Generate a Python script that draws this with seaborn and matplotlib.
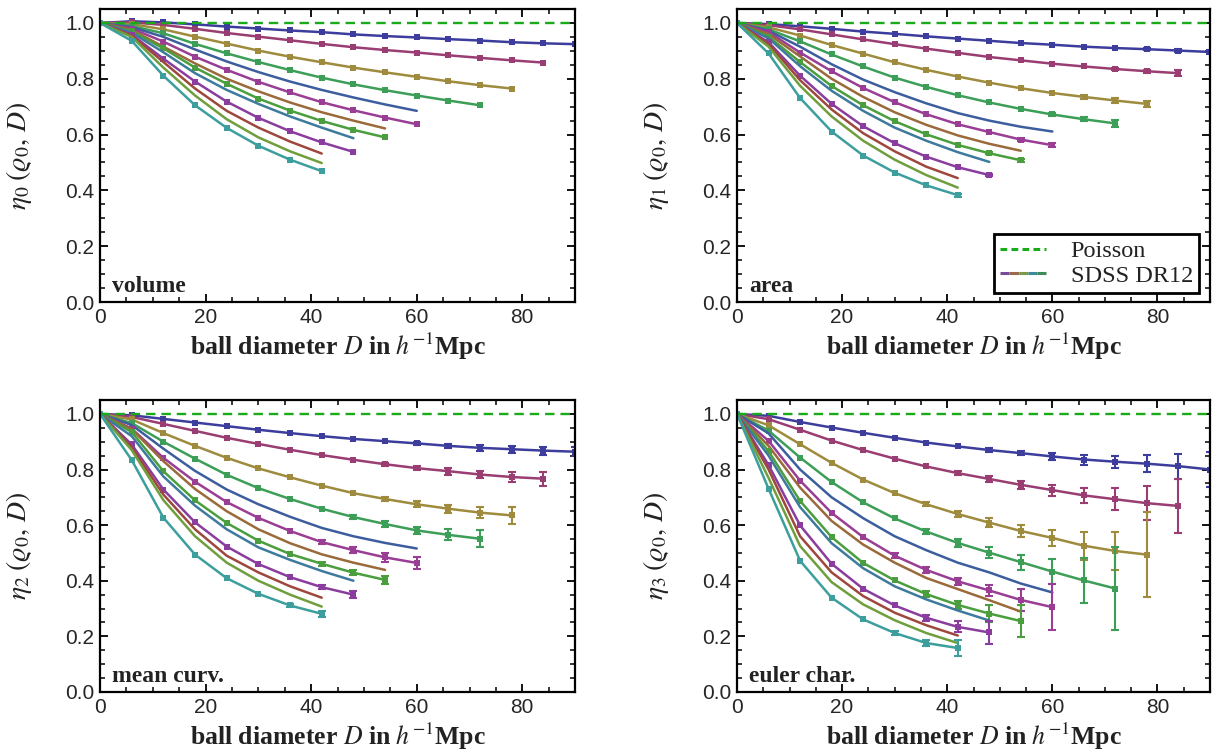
import numpy as np
import pandas as pd
import matplotlib
matplotlib.use("Agg")
import matplotlib.pyplot as plt
import seaborn as sns
from matplotlib.lines import Line2D
from matplotlib.legend_handler import HandlerBase
from matplotlib.ticker import MultipleLocator, FormatStrFormatter

# ---------------- data ----------------
STEP = 6
X_END = [90, 84, 78, 72, 60, 60, 54, 54, 48, 48, 42, 42, 42]
HAS_MARKERS = [True, True, True, True, False, True, False, True, False, True, False, False, True]
COLORS = ["#3d3d9e", "#9a3d72", "#9e8b3d", "#3d9e58", "#3d5e9e", "#9a3d95", "#9a6a3a",
          "#4a9e3d", "#3d7a9e", "#8a3d9e", "#9e483d", "#6f9e3d", "#3d9e9e"]

VOLUME = [
    [1.0, 1.006, 1.002, 0.995, 0.987, 0.980, 0.973, 0.967, 0.959, 0.953, 0.948, 0.942, 0.937, 0.931, 0.927, 0.924],
    [1.0, 1.002, 0.993, 0.979, 0.964, 0.951, 0.938, 0.925, 0.913, 0.903, 0.894, 0.884, 0.875, 0.866, 0.858],
    [1.0, 0.996, 0.977, 0.951, 0.926, 0.901, 0.879, 0.859, 0.840, 0.823, 0.807, 0.791, 0.777, 0.765],
    [1.0, 0.989, 0.963, 0.925, 0.891, 0.860, 0.831, 0.804, 0.780, 0.759, 0.740, 0.722, 0.705],
    [1.0, 0.985, 0.950, 0.905, 0.862, 0.824, 0.790, 0.760, 0.733, 0.708, 0.685],
    [1.0, 0.980, 0.933, 0.879, 0.832, 0.789, 0.751, 0.716, 0.687, 0.661, 0.637],
    [1.0, 0.975, 0.915, 0.855, 0.800, 0.755, 0.715, 0.680, 0.650, 0.622],
    [1.0, 0.970, 0.909, 0.840, 0.782, 0.729, 0.686, 0.649, 0.617, 0.590],
    [1.0, 0.965, 0.895, 0.820, 0.760, 0.710, 0.665, 0.625, 0.587],
    [1.0, 0.958, 0.872, 0.790, 0.718, 0.660, 0.612, 0.572, 0.538],
    [1.0, 0.955, 0.860, 0.765, 0.685, 0.625, 0.575, 0.532],
    [1.0, 0.950, 0.840, 0.740, 0.655, 0.590, 0.540, 0.498],
    [1.0, 0.936, 0.811, 0.705, 0.624, 0.560, 0.510, 0.469],
]
AREA = [
    [1.0, 0.996, 0.988, 0.979, 0.969, 0.961, 0.952, 0.944, 0.936, 0.928, 0.922, 0.915, 0.910, 0.906, 0.901, 0.896],
    [1.0, 0.992, 0.977, 0.959, 0.941, 0.924, 0.908, 0.893, 0.878, 0.866, 0.854, 0.844, 0.835, 0.827, 0.820],
    [1.0, 0.984, 0.955, 0.921, 0.890, 0.859, 0.832, 0.808, 0.786, 0.766, 0.749, 0.735, 0.722, 0.710],
    [1.0, 0.977, 0.934, 0.887, 0.844, 0.804, 0.771, 0.741, 0.715, 0.692, 0.672, 0.655, 0.640],
    [1.0, 0.972, 0.915, 0.852, 0.797, 0.752, 0.712, 0.677, 0.650, 0.628, 0.611],
    [1.0, 0.967, 0.894, 0.827, 0.767, 0.716, 0.673, 0.637, 0.609, 0.582, 0.562],
    [1.0, 0.960, 0.880, 0.800, 0.735, 0.680, 0.635, 0.597, 0.567, 0.542],
    [1.0, 0.951, 0.860, 0.774, 0.705, 0.648, 0.601, 0.563, 0.533, 0.508],
    [1.0, 0.945, 0.845, 0.757, 0.685, 0.625, 0.578, 0.537, 0.502],
    [1.0, 0.931, 0.811, 0.710, 0.630, 0.569, 0.521, 0.483, 0.455],
    [1.0, 0.925, 0.795, 0.690, 0.605, 0.540, 0.485, 0.444],
    [1.0, 0.915, 0.775, 0.665, 0.578, 0.510, 0.455, 0.410],
    [1.0, 0.891, 0.731, 0.611, 0.525, 0.464, 0.418, 0.383],
]
MEANCURV = [
    [1.0, 0.995, 0.982, 0.969, 0.956, 0.943, 0.931, 0.920, 0.910, 0.902, 0.894, 0.885, 0.878, 0.873, 0.868, 0.864],
    [1.0, 0.989, 0.964, 0.939, 0.914, 0.892, 0.871, 0.852, 0.835, 0.819, 0.805, 0.794, 0.782, 0.773, 0.767],
    [1.0, 0.980, 0.931, 0.885, 0.842, 0.804, 0.772, 0.742, 0.715, 0.694, 0.675, 0.659, 0.645, 0.635],
    [1.0, 0.967, 0.900, 0.839, 0.781, 0.733, 0.694, 0.659, 0.629, 0.604, 0.581, 0.565, 0.551],
    [1.0, 0.960, 0.875, 0.795, 0.728, 0.675, 0.630, 0.590, 0.560, 0.536, 0.516],
    [1.0, 0.947, 0.842, 0.756, 0.683, 0.626, 0.579, 0.539, 0.510, 0.484, 0.464],
    [1.0, 0.945, 0.830, 0.730, 0.650, 0.585, 0.535, 0.495, 0.465, 0.439],
    [1.0, 0.935, 0.794, 0.689, 0.608, 0.544, 0.496, 0.461, 0.429, 0.403],
    [1.0, 0.920, 0.775, 0.670, 0.585, 0.520, 0.475, 0.435, 0.400],
    [1.0, 0.890, 0.728, 0.610, 0.523, 0.460, 0.413, 0.377, 0.350],
    [1.0, 0.880, 0.710, 0.585, 0.490, 0.430, 0.380, 0.339],
    [1.0, 0.870, 0.690, 0.560, 0.465, 0.400, 0.350, 0.307],
    [1.0, 0.834, 0.627, 0.494, 0.409, 0.353, 0.311, 0.281],
]
EULER = [
    [1.0, 0.993, 0.971, 0.951, 0.932, 0.914, 0.897, 0.883, 0.870, 0.859, 0.847, 0.836, 0.828, 0.821, 0.812, 0.800],
    [1.0, 0.981, 0.943, 0.904, 0.870, 0.839, 0.811, 0.787, 0.766, 0.745, 0.726, 0.707, 0.693, 0.679, 0.669],
    [1.0, 0.959, 0.891, 0.824, 0.764, 0.715, 0.675, 0.640, 0.609, 0.579, 0.554, 0.526, 0.507, 0.494],
    [1.0, 0.940, 0.843, 0.755, 0.682, 0.624, 0.577, 0.536, 0.501, 0.467, 0.433, 0.401, 0.372],
    [1.0, 0.930, 0.800, 0.700, 0.625, 0.560, 0.510, 0.465, 0.430, 0.390, 0.358],
    [1.0, 0.903, 0.760, 0.644, 0.557, 0.490, 0.439, 0.398, 0.365, 0.331, 0.305],
    [1.0, 0.885, 0.735, 0.615, 0.530, 0.465, 0.410, 0.370, 0.330, 0.289],
    [1.0, 0.866, 0.687, 0.557, 0.464, 0.401, 0.352, 0.313, 0.282, 0.255],
    [1.0, 0.850, 0.665, 0.535, 0.445, 0.380, 0.333, 0.293, 0.257],
    [1.0, 0.816, 0.599, 0.461, 0.371, 0.311, 0.267, 0.234, 0.214],
    [1.0, 0.800, 0.560, 0.430, 0.345, 0.285, 0.240, 0.203],
    [1.0, 0.770, 0.525, 0.395, 0.315, 0.258, 0.212, 0.176],
    [1.0, 0.731, 0.472, 0.339, 0.261, 0.212, 0.176, 0.158],
]

# error bars, aligned to the LAST points of each curve
ERR_VOLUME = [[], [], [], [], [], [], [], [], [], [], [], [], []]
ERR_AREA = [[0.004, 0.005, 0.006], [0.005, 0.006, 0.010], [0.006, 0.008, 0.012], [0.006, 0.008, 0.012],
            [], [0.005, 0.008], [], [0.004, 0.006], [], [0.005], [], [], [0.005]]
ERR_MEANCURV = [[0.005, 0.008, 0.010, 0.012, 0.014, 0.016], [0.006, 0.008, 0.012, 0.014, 0.018, 0.025],
                [0.008, 0.010, 0.014, 0.020, 0.030], [0.008, 0.010, 0.014, 0.020, 0.030],
                [], [0.008, 0.010, 0.015, 0.020], [], [0.008, 0.010, 0.015], [], [0.008, 0.012],
                [], [], [0.006, 0.010]]
ERR_EULER = [[0.006, 0.008, 0.012, 0.018, 0.022, 0.030, 0.045, 0.063],
             [0.008, 0.010, 0.015, 0.020, 0.027, 0.040, 0.060, 0.096],
             [0.008, 0.010, 0.015, 0.020, 0.030, 0.050, 0.070, 0.152],
             [0.010, 0.015, 0.020, 0.027, 0.045, 0.080, 0.150],
             [], [0.008, 0.010, 0.012, 0.020, 0.040, 0.083], [], [0.010, 0.015, 0.030, 0.056],
             [], [0.010, 0.020, 0.041], [], [], [0.008, 0.012, 0.029]]

PANELS = [
    ("volume", r"$\eta_0\;(\varrho_0,\,D)$", VOLUME, ERR_VOLUME),
    ("area", r"$\eta_1\;(\varrho_0,\,D)$", AREA, ERR_AREA),
    ("mean curv.", r"$\eta_2\;(\varrho_0,\,D)$", MEANCURV, ERR_MEANCURV),
    ("euler char.", r"$\eta_3\;(\varrho_0,\,D)$", EULER, ERR_EULER),
]
XLABEL = r"ball diameter $D$ in $h^{-1}$Mpc"
POISSON_X = [0, 90]
POISSON_Y = [1.0, 1.0]
POISSON_COLOR = "#1aab1a"
LEGEND_LABELS = ["Poisson", "SDSS DR12"]
LEGEND_MULTI_COLORS = ["#7a4a9a", "#9a6a4a", "#7a9a4a", "#3d8a9a", "#3d8a5a"]

# ---------------- style ----------------
sns.set_style("ticks")
plt.rcParams["font.family"] = ["Liberation Serif", "DejaVu Serif"]
plt.rcParams["mathtext.fontset"] = "stix"
plt.rcParams["axes.linewidth"] = 1.6
plt.rcParams["xtick.direction"] = "in"
plt.rcParams["ytick.direction"] = "in"


class MultiLine:
    pass


class MultiLineHandler(HandlerBase):
    def create_artists(self, legend, orig_handle, xdescent, ydescent, width, height, fontsize, trans):
        n = len(LEGEND_MULTI_COLORS)
        y = height / 2 - ydescent
        arts = []
        for i, c in enumerate(LEGEND_MULTI_COLORS):
            x0 = -xdescent + width * i / n
            x1 = -xdescent + width * (i + 1) / n
            arts.append(Line2D([x0, x1], [y, y], color=c, lw=2.2, solid_capstyle="butt", transform=trans))
        return arts


fig = plt.figure(figsize=(12.14, 7.56), dpi=100)
positions = [
    [0.0824, 0.6005, 0.3913, 0.3876],
    [0.6071, 0.6005, 0.3896, 0.3876],
    [0.0824, 0.0847, 0.3913, 0.3862],
    [0.6071, 0.0847, 0.3896, 0.3862],
]

for k, (name, ylab, curves, errs) in enumerate(PANELS):
    ax = fig.add_axes(positions[k])
    for i, vals in enumerate(curves):
        xs = np.arange(0, X_END[i] + 1, STEP)
        df = pd.DataFrame({"D": xs, "eta": vals})
        kw = dict(marker="s", markersize=4.6, markeredgewidth=0) if HAS_MARKERS[i] else {}
        sns.lineplot(data=df, x="D", y="eta", color=COLORS[i], linewidth=1.8, ax=ax,
                     sort=False, errorbar=None, legend=False, **kw)
        e = errs[i]
        if len(e):
            n = len(e)
            ax.errorbar(xs[-n:], np.asarray(vals)[-n:], yerr=e, fmt="none", ecolor=COLORS[i],
                        elinewidth=1.5, capsize=2.6, capthick=1.5)
    ax.plot(POISSON_X, POISSON_Y, color=POISSON_COLOR, lw=1.7, dashes=(4, 2.5))

    ax.set_xlim(0, 90)
    ax.set_ylim(0, 1.05)
    ax.xaxis.set_major_locator(MultipleLocator(20))
    ax.xaxis.set_minor_locator(MultipleLocator(5))
    ax.yaxis.set_major_locator(MultipleLocator(0.2))
    ax.yaxis.set_minor_locator(MultipleLocator(0.05))
    ax.yaxis.set_major_formatter(FormatStrFormatter("%.1f"))
    ax.tick_params(which="both", direction="in", top=True, right=True, color="black")
    ax.tick_params(which="major", length=6, width=1.3, labelsize=15, pad=4)
    ax.tick_params(which="minor", length=3.5, width=1.1)
    for lab in ax.get_xticklabels() + ax.get_yticklabels():
        lab.set_fontfamily(["Liberation Sans", "DejaVu Sans"])
    for sp in ax.spines.values():
        sp.set_visible(True)
        sp.set_color("black")
        sp.set_linewidth(1.6)

    ax.set_xlabel(XLABEL, fontsize=18.5, fontweight="bold", color="#222222")
    ax.xaxis.set_label_coords(0.5, -0.098)
    ax.set_ylabel(ylab, fontsize=20, color="#222222")
    ax.yaxis.set_label_coords(-0.14, 0.5)
    ax.text(0.025, 0.035, name, transform=ax.transAxes, fontsize=17, fontweight="bold",
            color="#222222", ha="left", va="baseline")

    if k == 1:
        handles = [Line2D([], [], color=POISSON_COLOR, lw=2.2, dashes=(2.2, 1.4)), MultiLine()]
        leg = ax.legend(handles, LEGEND_LABELS, handler_map={MultiLine: MultiLineHandler()},
                        loc="lower right", bbox_to_anchor=(0.977, 0.031), borderaxespad=0,
                        fontsize=17.5, frameon=True, fancybox=False, framealpha=1,
                        edgecolor="black", handlelength=1.9, handletextpad=1.0,
                        borderpad=0.25, labelspacing=0.1)
        leg.get_frame().set_linewidth(2.0)
        for t in leg.get_texts():
            t.set_color("#222222")

fig.savefig("out.png", dpi=100)
